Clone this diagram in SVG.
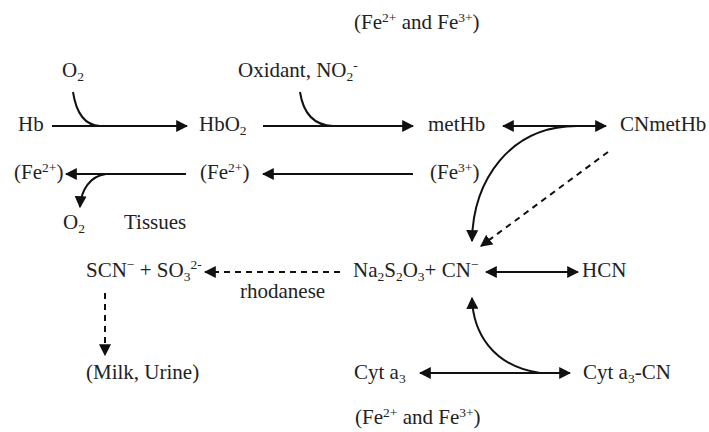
<svg xmlns="http://www.w3.org/2000/svg" width="709" height="432" viewBox="0 0 709 432">
<defs>
<style>
text{font-family:"Liberation Serif","Times New Roman",serif;font-size:21px;fill:#222}
.s{font-size:13.5px}
.ln{stroke:#111;stroke-width:2;fill:none}
.d{stroke-dasharray:6,5}
</style>
<marker id="ah" viewBox="0 0 10 10" refX="9" refY="5" markerWidth="6" markerHeight="6" orient="auto-start-reverse" markerUnits="strokeWidth">
<path d="M0,0 L10,5 L0,10 z" fill="#111"/>
</marker>
</defs>
<rect width="709" height="432" fill="#fff"/>
<g id="labels">
<text x="354" y="29">(Fe<tspan class="s" dy="-7">2+</tspan><tspan dy="7"> and Fe</tspan><tspan class="s" dy="-7">3+</tspan><tspan dy="7">)</tspan></text>
<text x="62" y="77">O<tspan class="s" dy="4">2</tspan></text>
<text x="238" y="77">Oxidant, NO<tspan class="s" dy="4">2</tspan><tspan class="s" dy="-11">-</tspan></text>
<text x="124" y="229">Tissues</text>
<text x="240" y="298">rhodanese</text>
<text x="355" y="424">(Fe<tspan class="s" dy="-7">2+</tspan><tspan dy="7"> and Fe</tspan><tspan class="s" dy="-7">3+</tspan><tspan dy="7">)</tspan></text>
</g>
<g id="n-hb"><text x="18" y="131">Hb</text></g>
<g id="n-hbo2"><text x="199" y="131">HbO<tspan class="s" dy="4">2</tspan></text></g>
<g id="n-methb"><text x="428" y="131">metHb</text></g>
<g id="n-cnmethb"><text x="620" y="131">CNmetHb</text></g>
<g id="n-fe2a"><text x="14" y="179">(Fe<tspan class="s" dy="-7">2+</tspan><tspan dy="7">)</tspan></text></g>
<g id="n-fe2b"><text x="200" y="179">(Fe<tspan class="s" dy="-7">2+</tspan><tspan dy="7">)</tspan></text></g>
<g id="n-fe3"><text x="430" y="179">(Fe<tspan class="s" dy="-7">3+</tspan><tspan dy="7">)</tspan></text></g>
<g id="n-o2t"><text x="63" y="229">O<tspan class="s" dy="4">2</tspan></text></g>
<g id="n-scn"><text x="86" y="277">SCN<tspan class="s" dy="-8">−</tspan><tspan dy="8"> + SO</tspan><tspan class="s" dy="4">3</tspan><tspan class="s" dy="-12">2-</tspan></text></g>
<g id="n-na"><text x="353" y="277">Na<tspan class="s" dy="4">2</tspan><tspan dy="-4">S</tspan><tspan class="s" dy="4">2</tspan><tspan dy="-4">O</tspan><tspan class="s" dy="4">3</tspan><tspan dy="-4">+ CN</tspan><tspan class="s" dy="-8">−</tspan></text></g>
<g id="n-hcn"><text x="582" y="277">HCN</text></g>
<g id="n-milk"><text x="86" y="379">(Milk, Urine)</text></g>
<g id="n-cyt"><text x="354" y="379">Cyt a<tspan class="s" dy="4">3</tspan></text></g>
<g id="n-cytcn"><text x="583" y="379">Cyt a<tspan class="s" dy="4">3</tspan><tspan dy="-4">-CN</tspan></text></g>
<g id="connectors">
<path class="ln" d="M52,126 L187,126" marker-end="url(#ah)"/>
<path class="ln" d="M73,92 Q78,125 100,126"/>
<path class="ln" d="M263,126 L413,126" marker-end="url(#ah)"/>
<path class="ln" d="M300,92 Q305,125 333,126"/>
<path class="ln" d="M503,126 L606,126" marker-start="url(#ah)" marker-end="url(#ah)"/>
<path class="ln" d="M577,126 C510,126 473,180 472,241" marker-end="url(#ah)"/>
<path class="ln d" d="M608,152 L481,246" marker-end="url(#ah)"/>
<path class="ln" d="M186,174 L66,174" marker-end="url(#ah)"/>
<path class="ln" d="M413,174 L263,174" marker-end="url(#ah)"/>
<path class="ln" d="M106,174 C90,176 81,190 80,207" marker-end="url(#ah)"/>
<path class="ln d" d="M340,272 L205,272" marker-end="url(#ah)"/>
<path class="ln d" d="M105,293 L105,355" marker-end="url(#ah)"/>
<path class="ln" d="M486,272 L578,272" marker-start="url(#ah)" marker-end="url(#ah)"/>
<path class="ln" d="M540,373 C492,366 473,332 472,298" marker-end="url(#ah)"/>
<path class="ln" d="M420,373 L570,373" marker-start="url(#ah)" marker-end="url(#ah)"/>
</g>
</svg>
